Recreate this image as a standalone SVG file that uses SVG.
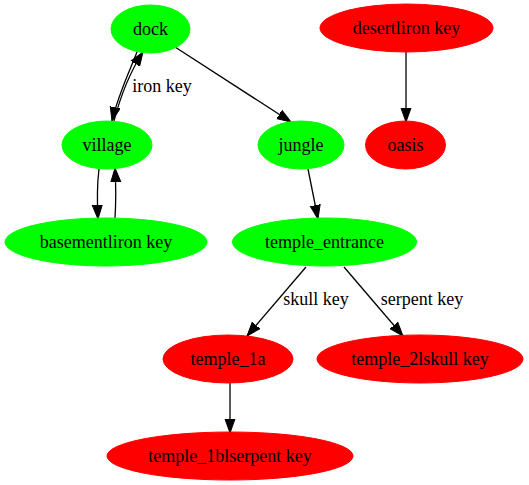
<svg xmlns="http://www.w3.org/2000/svg" width="529" height="485" viewBox="0 0 529 485">
<defs>
<style>
.g{fill:#00ff00;stroke:#00ff00}
.r{fill:#ff0000;stroke:#ff0000}
text{font-family:'Liberation Serif','DejaVu Serif',serif;font-size:18px;fill:#000;text-anchor:middle}
.e{fill:none;stroke:#000;stroke-width:1.3;marker-end:url(#ah)}
</style>
<marker id="ah" markerUnits="userSpaceOnUse" markerWidth="16" markerHeight="12" refX="14" refY="6" orient="auto" viewBox="0 0 16 12">
<path d="M0,1 L14,6 L0,11 Z" fill="#000" stroke="#000"/>
</marker>
</defs>
<rect width="529" height="485" fill="#fff"/>
<g id="connectors">
<path class="e" d="M137,52 C130,70 118,95 112,121"/>
<path class="e" d="M114,121 C120,98 130,72 143,52"/>
<path class="e" d="M99,169 C97,185 97,200 98,219"/>
<path class="e" d="M115,218 C116,202 116,186 115,168"/>
<path class="e" d="M175,47 L291,122"/>
<path class="e" d="M308,169 L318,219"/>
<path class="e" d="M306,267 L247,336"/>
<path class="e" d="M344,267 L403,336"/>
<path class="e" d="M230,383 L230,433"/>
<path class="e" d="M406,52 L406,122"/>
<text x="162" y="92" font-family="Liberation Serif, serif">iron key</text>
<text x="316" y="305" font-family="Liberation Serif, serif">skull key</text>
<text x="422" y="305" font-family="Liberation Serif, serif">serpent key</text>
</g>
<g id="dock"><ellipse class="g" cx="150.5" cy="29" rx="39.5" ry="24"/><text x="150.5" y="35" font-family="Liberation Serif, serif">dock</text></g>
<g id="village"><ellipse class="g" cx="107" cy="145" rx="45" ry="24"/><text x="107" y="151" font-family="Liberation Serif, serif">village</text></g>
<g id="basementliron_key"><ellipse class="g" cx="106" cy="242" rx="101" ry="24"/><text x="106" y="248" font-family="Liberation Serif, serif">basementliron key</text></g>
<g id="jungle"><ellipse class="g" cx="301" cy="145" rx="43" ry="24"/><text x="301" y="151" font-family="Liberation Serif, serif">jungle</text></g>
<g id="temple_entrance"><ellipse class="g" cx="324.5" cy="242" rx="92" ry="24"/><text x="324.5" y="248" font-family="Liberation Serif, serif">temple_entrance</text></g>
<g id="temple_1a"><ellipse class="r" cx="228" cy="359" rx="65" ry="24"/><text x="228" y="365" font-family="Liberation Serif, serif">temple_1a</text></g>
<g id="temple_2lskull_key"><ellipse class="r" cx="420" cy="359" rx="103" ry="24"/><text x="420" y="365" font-family="Liberation Serif, serif">temple_2lskull key</text></g>
<g id="temple_1blserpent_key"><ellipse class="r" cx="230" cy="456" rx="123" ry="24"/><text x="230" y="462" font-family="Liberation Serif, serif">temple_1blserpent key</text></g>
<g id="desertliron_key"><ellipse class="r" cx="406.5" cy="28" rx="86.5" ry="24"/><text x="406.5" y="34" font-family="Liberation Serif, serif">desertliron key</text></g>
<g id="oasis"><ellipse class="r" cx="405.5" cy="145" rx="40" ry="24"/><text x="405.5" y="151" font-family="Liberation Serif, serif">oasis</text></g>
</svg>
